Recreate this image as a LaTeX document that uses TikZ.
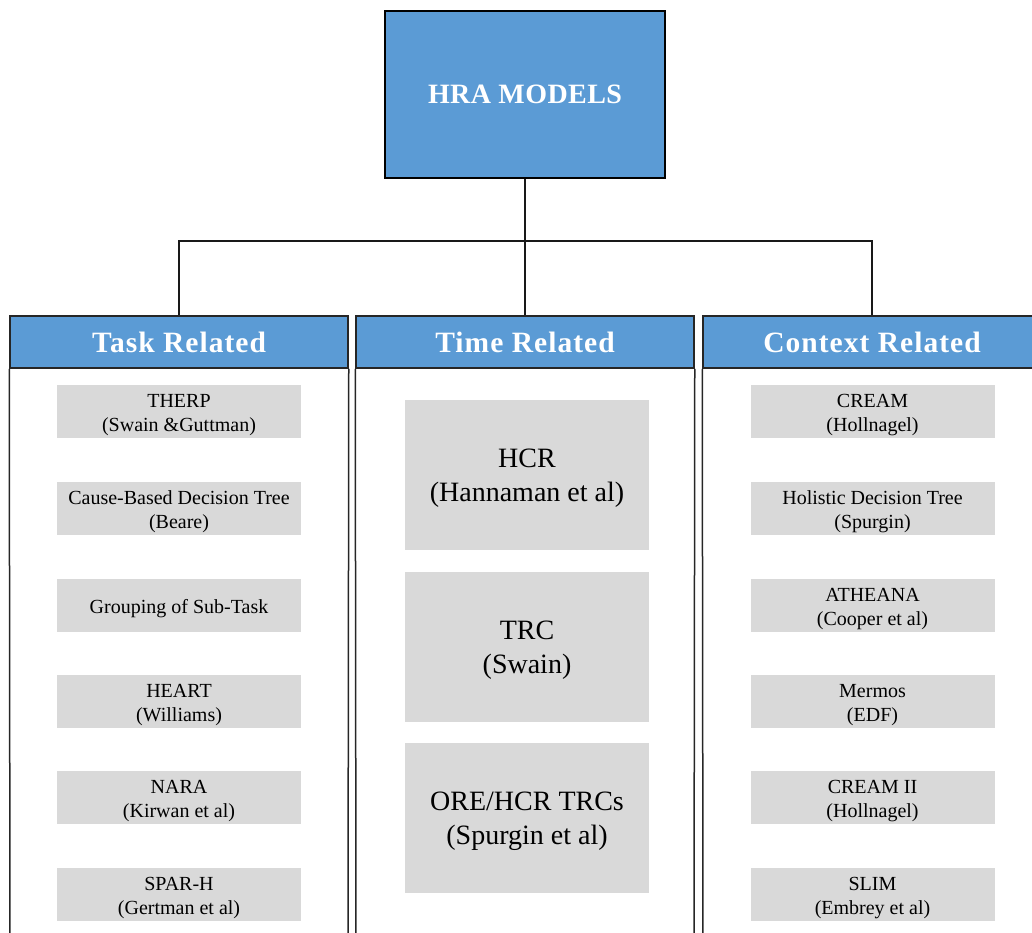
\documentclass[tikz,border=0pt]{standalone}
\usepackage{fontspec}
\setmainfont{Liberation Serif}
\definecolor{hrablue}{HTML}{5B9BD5}
\definecolor{itemgray}{HTML}{D9D9D9}
% centred multi-line label, lowered slightly inside its box
\newcommand\itemtxt[1]{\raisebox{-3pt}[\height][\depth]{\begin{tabular}{@{}c@{}}#1\end{tabular}}}
\begin{document}
\begin{tikzpicture}[x=1pt,y=-1pt,
  topbox/.style={draw=black,line width=1.6pt,fill=hrablue,minimum width=280pt,minimum height=167pt,
    inner sep=0pt,text=white,font=\fontsize{28}{30}\selectfont\bfseries\addfontfeatures{LetterSpace=1.5}},
  colhead/.style={draw=black!85,line width=1.5pt,fill=hrablue,minimum width=338pt,minimum height=52pt,
    inner sep=0pt,text=white,font=\fontsize{29.5}{32}\selectfont\bfseries\addfontfeatures{LetterSpace=3.5}},
  colbody/.style={draw=black!85,line width=1.5pt},
  smallitem/.style={fill=itemgray,minimum width=244pt,minimum height=53pt,inner sep=0pt,
    font=\fontsize{20}{24}\selectfont},
  bigitem/.style={fill=itemgray,minimum width=244pt,minimum height=150pt,inner sep=0pt,
    font=\fontsize{28}{34}\selectfont},
  link/.style={draw=black!90,line width=1.5pt}]
\useasboundingbox (0,0) rectangle (1032,933);
\clip (0,0) rectangle (1032,933);

% root
\node[topbox] (root) at (525,94.5) {HRA MODELS};

% column headers
\node[colhead] (task) at (179,342) {Task Related};
\node[colhead] (time) at (525,342) {Time Related};
\node[colhead] (ctx)  at (872,342) {Context Related};

% column bodies
\draw[colbody] (task.south west) -- (10,960) (task.south east) -- (348,960);
\draw[colbody] (time.south west) -- (356,960) (time.south east) -- (694,960);
\draw[colbody] (ctx.south west) -- (703,960) (ctx.south east) -- (1041,960);

% tree connectors
\coordinate (j) at (525,241);
\draw[link] (root.south) -- (j);
\draw[link] (task.north) |- (j) -| (ctx.north);
\draw[link] (j) -- (time.north);

% task related items
\node[smallitem] (t1) at (179,411.5) {\itemtxt{THERP\\(Swain \&Guttman)}};
\node[smallitem] (t2) at (179,508.5) {\itemtxt{Cause-Based Decision Tree\\(Beare)}};
\node[smallitem] (t3) at (179,605.5) {\itemtxt{Grouping of Sub-Task}};
\node[smallitem] (t4) at (179,701.5) {\itemtxt{HEART\\(Williams)}};
\node[smallitem] (t5) at (179,797.5) {\itemtxt{NARA\\(Kirwan et al)}};
\node[smallitem] (t6) at (179,894.5) {\itemtxt{SPAR-H\\(Gertman et al)}};

% time related items
\node[bigitem] (m1) at (527,475) {\itemtxt{HCR\\(Hannaman et al)}};
\node[bigitem] (m2) at (527,647) {\itemtxt{TRC\\(Swain)}};
\node[bigitem] (m3) at (527,818) {\itemtxt{ORE/HCR TRCs\\(Spurgin et al)}};

% context related items
\node[smallitem] (c1) at (872.5,411.5) {\itemtxt{CREAM\\(Hollnagel)}};
\node[smallitem] (c2) at (872.5,508.5) {\itemtxt{Holistic Decision Tree\\(Spurgin)}};
\node[smallitem] (c3) at (872.5,605.5) {\itemtxt{ATHEANA\\(Cooper et al)}};
\node[smallitem] (c4) at (872.5,701.5) {\itemtxt{Mermos\\(EDF)}};
\node[smallitem] (c5) at (872.5,797.5) {\itemtxt{CREAM II\\(Hollnagel)}};
\node[smallitem] (c6) at (872.5,894.5) {\itemtxt{SLIM\\(Embrey et al)}};
\end{tikzpicture}
\end{document}
